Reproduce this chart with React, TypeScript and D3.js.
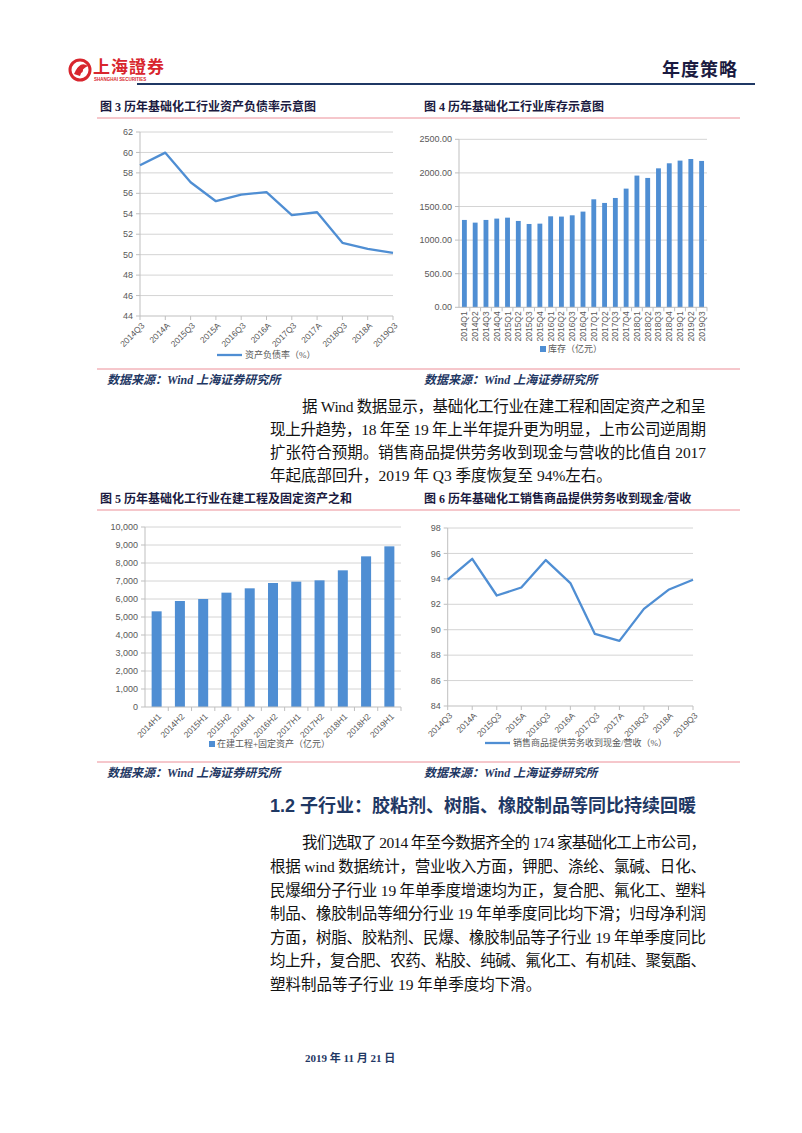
import React from 'react';
import * as d3 from 'd3';

// ---------- DATA ----------
const debtCats = ['2014Q3', '2014A', '2015Q3', '2015A', '2016Q3', '2016A', '2017Q3', '2017A', '2018Q3', '2018A', '2019Q3'];
const debtVals = [58.74, 59.98, 57.08, 55.23, 55.88, 56.11, 53.86, 54.15, 51.16, 50.57, 50.18];
const debtTicks = [44, 46, 48, 50, 52, 54, 56, 58, 60, 62];

const invCats = ['2014Q1', '2014Q2', '2014Q3', '2014Q4', '2015Q1', '2015Q2', '2015Q3', '2015Q4', '2016Q1', '2016Q2', '2016Q3', '2016Q4',
  '2017Q1', '2017Q2', '2017Q3', '2017Q4', '2018Q1', '2018Q2', '2018Q3', '2018Q4', '2019Q1', '2019Q2', '2019Q3'];
const invVals = [1300, 1260, 1300, 1320, 1334, 1285, 1240, 1245, 1354, 1350, 1369, 1424, 1607, 1553, 1627, 1766, 1960, 1925, 2068, 2143, 2183, 2207, 2178];
const invTicks = [0, 500, 1000, 1500, 2000, 2500];

const capexCats = ['2014H1', '2014H2', '2015H1', '2015H2', '2016H1', '2016H2', '2017H1', '2017H2', '2018H1', '2018H2', '2019H1'];
const capexVals = [5315, 5889, 6000, 6352, 6593, 6889, 6963, 7037, 7593, 8370, 8926];
const capexTicks = [0, 1000, 2000, 3000, 4000, 5000, 6000, 7000, 8000, 9000, 10000];

const cashCats = ['2014Q3', '2014A', '2015Q3', '2015A', '2016Q3', '2016A', '2017Q3', '2017A', '2018Q3', '2018A', '2019Q3'];
const cashVals = [93.93, 95.58, 92.69, 93.32, 95.48, 93.67, 89.67, 89.12, 91.64, 93.14, 93.93];
const cashTicks = [84, 86, 88, 90, 92, 94, 96, 98];

const chartTitles = [
  '图 3 历年基础化工行业资产负债率示意图',
  '图 4 历年基础化工行业库存示意图',
  '图 5 历年基础化工行业在建工程及固定资产之和',
  '图 6 历年基础化工销售商品提供劳务收到现金/营收',
];
const legendLabels = ['资产负债率（%）', '库存（亿元）', '在建工程+固定资产（亿元）', '销售商品提供劳务收到现金/营收（%）'];
const sourceText = '数据来源：Wind 上海证券研究所';

const para1 = [
  '据 Wind 数据显示，基础化工行业在建工程和固定资产之和呈',
  '现上升趋势，18 年至 19 年上半年提升更为明显，上市公司逆周期',
  '扩张符合预期。销售商品提供劳务收到现金与营收的比值自 2017',
  '年起底部回升，2019 年 Q3 季度恢复至 94%左右。',
];
const heading = '1.2  子行业：胶粘剂、树脂、橡胶制品等同比持续回暖';
const para2 = [
  '我们选取了 2014 年至今数据齐全的 174 家基础化工上市公司，',
  '根据 wind 数据统计，营业收入方面，钾肥、涤纶、氯碱、日化、',
  '民爆细分子行业 19 年单季度增速均为正，复合肥、氟化工、塑料',
  '制品、橡胶制品等细分行业 19 年单季度同比均下滑；归母净利润',
  '方面，树脂、胶粘剂、民爆、橡胶制品等子行业 19 年单季度同比',
  '均上升，复合肥、农药、粘胶、纯碱、氟化工、有机硅、聚氨酯、',
  '塑料制品等子行业 19 年单季度均下滑。',
];
const dateText = '2019 年 11 月 21 日';

// ---------- STYLE ----------
const BLUE = '#4f8ed3';
const GRID = '#d4d4d4';
const AXIS = '#bfbfbf';
const TICKC = '#595959';
const NAVY = '#1f3864';
const PINK = '#ec8f98';
const SANS = '"Liberation Sans", "Noto Sans CJK SC", sans-serif';
const SERIF = '"Liberation Serif", "Noto Sans CJK SC", serif';

type Box = { x0: number; x1: number; y0: number; y1: number };

function LineChart({ cats, vals, ticks, box, legend, legendX, legendY, fmt }:
  { cats: string[]; vals: number[]; ticks: number[]; box: Box; legend: string; legendX: number; legendY: number; fmt: (v: number) => string }) {
  const x = d3.scalePoint<string>().domain(cats).range([box.x0, box.x1]);
  const y = d3.scaleLinear().domain([ticks[0], ticks[ticks.length - 1]]).range([box.y1, box.y0]);
  const line = d3.line<number>().x((_, i) => x(cats[i])!).y(d => y(d));
  return (
    <g>
      {ticks.map(t => (
        <g key={t}>
          {t !== ticks[0] && <line x1={box.x0} x2={box.x1} y1={y(t)} y2={y(t)} stroke={GRID} strokeWidth={1} />}
          <line x1={box.x0 - 4} x2={box.x0} y1={y(t)} y2={y(t)} stroke={AXIS} />
          <text x={box.x0 - 7} y={y(t)} dy="0.35em" textAnchor="end" fontSize={9} fill={TICKC} fontFamily={SANS}>{fmt(t)}</text>
        </g>
      ))}
      <line x1={box.x0} x2={box.x0} y1={box.y0} y2={box.y1} stroke={AXIS} />
      <line x1={box.x0} x2={box.x1} y1={box.y1} y2={box.y1} stroke={AXIS} />
      {cats.map(c => (
        <g key={c}>
          <line x1={x(c)} x2={x(c)} y1={box.y1} y2={box.y1 + 4} stroke={AXIS} />
          <text transform={`translate(${x(c)! + 3},${box.y1 + 8}) rotate(-45)`} textAnchor="end" dy="0.35em" fontSize={8.5} fill={TICKC} fontFamily={SANS}>{c}</text>
        </g>
      ))}
      <path d={line(vals)!} fill="none" stroke={BLUE} strokeWidth={2.3} strokeLinejoin="round" />
      <line x1={legendX} x2={legendX + 25} y1={legendY} y2={legendY} stroke={BLUE} strokeWidth={2.3} />
      <text x={legendX + 28} y={legendY} dy="0.35em" fontSize={9} fill={TICKC} fontFamily={SERIF}>{legend}</text>
    </g>
  );
}

function BarChart({ cats, vals, ticks, box, legend, legendX, legendY, fmt, pad, vertical }:
  { cats: string[]; vals: number[]; ticks: number[]; box: Box; legend: string; legendX: number; legendY: number; fmt: (v: number) => string; pad: number; vertical: boolean }) {
  const x = d3.scaleBand<string>().domain(cats).range([box.x0, box.x1]).paddingInner(pad).paddingOuter(pad / 2);
  const y = d3.scaleLinear().domain([ticks[0], ticks[ticks.length - 1]]).range([box.y1, box.y0]);
  const full = d3.scaleBand<string>().domain(cats).range([box.x0, box.x1]);
  return (
    <g>
      {ticks.map(t => (
        <g key={t}>
          {t !== ticks[0] && <line x1={box.x0} x2={box.x1} y1={y(t)} y2={y(t)} stroke={GRID} strokeWidth={1} />}
          <line x1={box.x0 - 4} x2={box.x0} y1={y(t)} y2={y(t)} stroke={AXIS} />
          <text x={box.x0 - 7} y={y(t)} dy="0.35em" textAnchor="end" fontSize={9} fill={TICKC} fontFamily={SANS}>{fmt(t)}</text>
        </g>
      ))}
      <line x1={box.x0} x2={box.x0} y1={box.y0} y2={box.y1} stroke={AXIS} />
      {cats.map((c, i) => (
        <rect key={c} x={x(c)} y={y(vals[i])} width={x.bandwidth()} height={y(ticks[0]) - y(vals[i])} fill={BLUE} />
      ))}
      <line x1={box.x0} x2={box.x1} y1={box.y1} y2={box.y1} stroke={AXIS} />
      {cats.map(c => (
        <line key={'t' + c} x1={full(c)! + full.bandwidth()} x2={full(c)! + full.bandwidth()} y1={box.y1} y2={box.y1 + 4} stroke={AXIS} />
      ))}
      {cats.map(c => {
        const cx = full(c)! + full.bandwidth() / 2;
        return vertical ? (
          <text key={'l' + c} transform={`translate(${cx},${box.y1 + 4}) rotate(-90)`} textAnchor="end" dy="0.35em" fontSize={8.5} fill={TICKC} fontFamily={SANS}>{c}</text>
        ) : (
          <text key={'l' + c} transform={`translate(${cx + 3},${box.y1 + 8}) rotate(-45)`} textAnchor="end" dy="0.35em" fontSize={8.5} fill={TICKC} fontFamily={SANS}>{c}</text>
        );
      })}
      <rect x={legendX} y={legendY - 3} width={6} height={6} fill={BLUE} />
      <text x={legendX + 8} y={legendY} dy="0.35em" fontSize={9} fill={TICKC} fontFamily={SERIF}>{legend}</text>
    </g>
  );
}

function Paragraph({ lines, x0, x1, y0, step, indent }: { lines: string[]; x0: number; x1: number; y0: number; step: number; indent: number }) {
  return (
    <g>
      {lines.map((l, i) => {
        const start = i === 0 ? x0 + indent : x0;
        const last = i === lines.length - 1;
        return (
          <text key={i} x={start} y={y0 + i * step} dy="0.35em" fontSize={15.5} fill="#111" fontFamily={SERIF}
            {...(last ? {} : { textLength: x1 - start, lengthAdjust: 'spacing' })}>{l}</text>
        );
      })}
    </g>
  );
}

export default function App() {
  const f0 = (v: number) => String(v);
  const f2 = (v: number) => v.toFixed(2);
  const fc = d3.format(',');
  return (
    <svg width={802} height={1133} style={{ position: 'absolute', left: 0, top: 0, background: '#fff' }}>
      <rect width={802} height={1133} fill="#fff" />
      {/* header logo */}
      <g>
        <circle cx={80} cy={70} r={10} fill="none" stroke="#d8262e" strokeWidth={3} />
        <path d="M74,74 Q80,60 88,66 Q82,68 80,76 Z" fill="#d8262e" />
        <circle cx={80} cy={70} r={3} fill="#d8262e" />
        <text x={93} y={73} fontSize={17} fontWeight="bold" fill="#d8262e" fontFamily={SERIF} letterSpacing={1}>上海證券</text>
        <text x={94} y={81} fontSize={4.5} fontWeight="bold" fill="#d8262e" fontFamily={SANS}>SHANGHAI SECURITIES</text>
      </g>
      <text x={738} y={76} textAnchor="end" fontSize={18} fontWeight="bold" fill="#1a1a40" fontFamily={SERIF} letterSpacing={1}>年度策略</text>
      <line x1={137} x2={755} y1={84} y2={84} stroke={NAVY} strokeWidth={2} />

      {/* chart titles row 1 */}
      <text x={100} y={107} dy="0.35em" fontSize={12} fontWeight="bold" fill="#1a1a40" fontFamily={SERIF}>{chartTitles[0]}</text>
      <text x={424} y={107} dy="0.35em" fontSize={12} fontWeight="bold" fill="#1a1a40" fontFamily={SERIF}>{chartTitles[1]}</text>
      <line x1={97} x2={740} y1={118} y2={118} stroke={PINK} strokeWidth={1} />

      <LineChart cats={debtCats} vals={debtVals} ticks={debtTicks} box={{ x0: 140, x1: 393, y0: 132, y1: 316 }}
        legend={legendLabels[0]} legendX={217} legendY={355} fmt={f0} />
      <BarChart cats={invCats} vals={invVals} ticks={invTicks} box={{ x0: 459, x1: 707, y0: 139.3, y1: 307.3 }}
        legend={legendLabels[1]} legendX={540} legendY={349} fmt={f2} pad={0.55} vertical={true} />

      <line x1={97} x2={740} y1={369} y2={369} stroke={PINK} strokeWidth={1} />
      <text x={107} y={380} dy="0.35em" fontSize={12} fontWeight="bold" fontStyle="italic" fill={NAVY} fontFamily={SERIF}>{sourceText}</text>
      <text x={424} y={380} dy="0.35em" fontSize={12} fontWeight="bold" fontStyle="italic" fill={NAVY} fontFamily={SERIF}>{sourceText}</text>

      <Paragraph lines={para1} x0={270} x1={706} y0={407} step={23} indent={32} />

      {/* chart titles row 2 */}
      <text x={100} y={499} dy="0.35em" fontSize={12} fontWeight="bold" fill="#1a1a40" fontFamily={SERIF}>{chartTitles[2]}</text>
      <text x={424} y={499} dy="0.35em" fontSize={12} fontWeight="bold" fill="#1a1a40" fontFamily={SERIF}>{chartTitles[3]}</text>
      <line x1={97} x2={740} y1={510} y2={510} stroke={PINK} strokeWidth={1} />

      <BarChart cats={capexCats} vals={capexVals} ticks={capexTicks} box={{ x0: 145, x1: 401, y0: 527, y1: 707 }}
        legend={legendLabels[2]} legendX={209} legendY={744} fmt={fc} pad={0.57} vertical={false} />
      <LineChart cats={cashCats} vals={cashVals} ticks={cashTicks} box={{ x0: 447.7, x1: 693, y0: 528, y1: 706 }}
        legend={legendLabels[3]} legendX={485} legendY={743} fmt={f0} />

      <line x1={97} x2={740} y1={762} y2={762} stroke={PINK} strokeWidth={1} />
      <text x={107} y={773} dy="0.35em" fontSize={12} fontWeight="bold" fontStyle="italic" fill={NAVY} fontFamily={SERIF}>{sourceText}</text>
      <text x={424} y={773} dy="0.35em" fontSize={12} fontWeight="bold" fontStyle="italic" fill={NAVY} fontFamily={SERIF}>{sourceText}</text>

      <text x={270} y={806} dy="0.35em" fontSize={18} fontWeight="bold" fill={NAVY} fontFamily={SANS}>{heading}</text>
      <Paragraph lines={para2} x0={270} x1={706} y0={843} step={23.6} indent={32} />

      <text x={305} y={1058} dy="0.35em" fontSize={11} fontWeight="bold" fill={NAVY} fontFamily={SERIF}>{dateText}</text>
    </svg>
  );
}
